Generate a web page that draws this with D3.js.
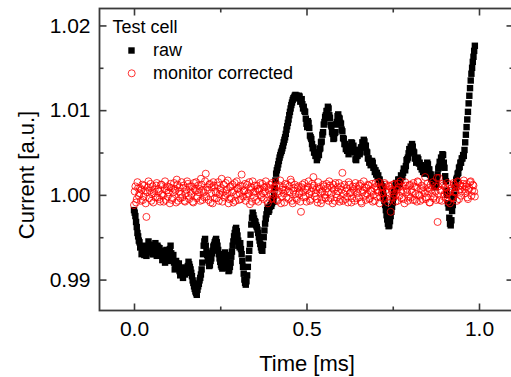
<!DOCTYPE html>
<html>
<head>
<meta charset="utf-8">
<script src="https://cdn.jsdelivr.net/npm/d3@7"></script>
<style>
  body { margin: 0; background: #fff; }
  text { font-family: "Liberation Sans", Arial, sans-serif; fill: #000; }
</style>
</head>
<body>
<div id="chart"></div>
<script>
// sampling step of both series [ms], first sample at t = 0
const sampleStep = 0.002;

// raw test-cell current (black squares)
const rawValues = [
  0.9982, 0.9979, 0.9975, 0.9968, 0.9962, 0.9955, 0.9951, 0.9946, 0.9944, 0.9938, 0.9938, 0.9930, 0.9932, 0.9940, 0.9939, 0.9929, 0.9934, 0.9939, 0.9928, 0.9933,
  0.9936, 0.9945, 0.9941, 0.9932, 0.9933, 0.9941, 0.9937, 0.9930, 0.9930, 0.9936, 0.9938, 0.9943, 0.9935, 0.9928, 0.9940, 0.9938, 0.9932, 0.9937, 0.9929, 0.9934,
  0.9932, 0.9923, 0.9928, 0.9933, 0.9925, 0.9920, 0.9930, 0.9935, 0.9927, 0.9922, 0.9932, 0.9928, 0.9936, 0.9940, 0.9931, 0.9925, 0.9924, 0.9929, 0.9920, 0.9912,
  0.9916, 0.9922, 0.9919, 0.9913, 0.9913, 0.9919, 0.9910, 0.9905, 0.9914, 0.9912, 0.9908, 0.9902, 0.9911, 0.9914, 0.9906, 0.9908, 0.9910, 0.9914, 0.9916, 0.9921,
  0.9918, 0.9915, 0.9912, 0.9908, 0.9904, 0.9899, 0.9896, 0.9892, 0.9889, 0.9886, 0.9884, 0.9882, 0.9888, 0.9892, 0.9895, 0.9899, 0.9902, 0.9906, 0.9912, 0.9920,
  0.9930, 0.9940, 0.9945, 0.9948, 0.9940, 0.9933, 0.9929, 0.9923, 0.9922, 0.9916, 0.9917, 0.9922, 0.9925, 0.9931, 0.9934, 0.9939, 0.9941, 0.9944, 0.9946, 0.9948,
  0.9944, 0.9940, 0.9935, 0.9930, 0.9925, 0.9921, 0.9917, 0.9915, 0.9913, 0.9918, 0.9922, 0.9928, 0.9932, 0.9929, 0.9924, 0.9918, 0.9914, 0.9910, 0.9911, 0.9915,
  0.9920, 0.9927, 0.9933, 0.9940, 0.9945, 0.9951, 0.9955, 0.9959, 0.9961, 0.9957, 0.9952, 0.9946, 0.9940, 0.9938, 0.9943, 0.9936, 0.9930, 0.9922, 0.9915, 0.9907,
  0.9900, 0.9896, 0.9894, 0.9898, 0.9905, 0.9915, 0.9925, 0.9934, 0.9942, 0.9953, 0.9965, 0.9973, 0.9979, 0.9976, 0.9972, 0.9969, 0.9968, 0.9964, 0.9962, 0.9959,
  0.9955, 0.9950, 0.9946, 0.9942, 0.9938, 0.9935, 0.9934, 0.9941, 0.9950, 0.9958, 0.9966, 0.9972, 0.9977, 0.9982, 0.9985, 0.9980, 0.9982, 0.9986, 0.9988, 0.9987,
  0.9990, 0.9993, 0.9992, 0.9999, 1.0008, 1.0017, 1.0025, 1.0029, 1.0032, 1.0036, 1.0040, 1.0044, 1.0047, 1.0050, 1.0052, 1.0055, 1.0058, 1.0062, 1.0065, 1.0068,
  1.0072, 1.0077, 1.0081, 1.0085, 1.0089, 1.0094, 1.0098, 1.0102, 1.0106, 1.0109, 1.0112, 1.0114, 1.0115, 1.0117, 1.0118, 1.0115, 1.0117, 1.0116, 1.0114, 1.0117,
  1.0116, 1.0110, 1.0112, 1.0113, 1.0107, 1.0102, 1.0104, 1.0099, 1.0098, 1.0090, 1.0084, 1.0080, 1.0087, 1.0085, 1.0079, 1.0070, 1.0068, 1.0066, 1.0060, 1.0055,
  1.0056, 1.0050, 1.0050, 1.0046, 1.0046, 1.0041, 1.0044, 1.0048, 1.0047, 1.0054, 1.0055, 1.0062, 1.0063, 1.0071, 1.0074, 1.0083, 1.0086, 1.0092, 1.0094, 1.0099,
  1.0099, 1.0104, 1.0102, 1.0094, 1.0091, 1.0083, 1.0081, 1.0074, 1.0072, 1.0066, 1.0067, 1.0073, 1.0074, 1.0083, 1.0086, 1.0093, 1.0095, 1.0091, 1.0090, 1.0085,
  1.0084, 1.0077, 1.0075, 1.0067, 1.0066, 1.0060, 1.0060, 1.0054, 1.0057, 1.0052, 1.0054, 1.0048, 1.0052, 1.0057, 1.0056, 1.0062, 1.0061, 1.0057, 1.0058, 1.0051,
  1.0050, 1.0042, 1.0041, 1.0046, 1.0046, 1.0053, 1.0053, 1.0048, 1.0050, 1.0056, 1.0056, 1.0062, 1.0061, 1.0065, 1.0063, 1.0058, 1.0058, 1.0051, 1.0050, 1.0043,
  1.0043, 1.0038, 1.0040, 1.0035, 1.0036, 1.0040, 1.0038, 1.0032, 1.0032, 1.0027, 1.0029, 1.0024, 1.0026, 1.0021, 1.0023, 1.0018, 1.0018, 1.0012, 1.0013, 1.0009,
  1.0010, 1.0004, 0.9998, 0.9993, 0.9988, 0.9982, 0.9976, 0.9971, 0.9966, 0.9963, 0.9964, 0.9969, 0.9975, 0.9980, 0.9986, 0.9991, 0.9997, 1.0003, 1.0008, 1.0011,
  1.0014, 1.0010, 1.0012, 1.0018, 1.0018, 1.0013, 1.0017, 1.0023, 1.0022, 1.0021, 1.0026, 1.0031, 1.0030, 1.0029, 1.0034, 1.0041, 1.0042, 1.0044, 1.0049, 1.0054,
  1.0052, 1.0057, 1.0056, 1.0060, 1.0057, 1.0051, 1.0050, 1.0043, 1.0043, 1.0038, 1.0040, 1.0044, 1.0042, 1.0037, 1.0038, 1.0033, 1.0035, 1.0030, 1.0031, 1.0027,
  1.0029, 1.0025, 1.0027, 1.0032, 1.0033, 1.0038, 1.0036, 1.0030, 1.0030, 1.0024, 1.0024, 1.0019, 1.0020, 1.0015, 1.0016, 1.0011, 1.0012, 1.0009, 1.0013, 1.0020,
  1.0024, 1.0031, 1.0033, 1.0039, 1.0038, 1.0044, 1.0043, 1.0048, 1.0047, 1.0038, 1.0032, 1.0022, 1.0016, 1.0005, 1.0000, 0.9990, 0.9985, 0.9973, 0.9966, 0.9964,
  0.9970, 0.9981, 0.9988, 0.9996, 1.0000, 1.0008, 1.0012, 1.0018, 1.0020, 1.0025, 1.0026, 1.0032, 1.0033, 1.0038, 1.0038, 1.0043, 1.0043, 1.0047, 1.0046, 1.0053,
  1.0062, 1.0071, 1.0080, 1.0089, 1.0098, 1.0108, 1.0117, 1.0126, 1.0135, 1.0143, 1.0150, 1.0157, 1.0163, 1.0170, 1.0176
];

// monitor corrected current (red open circles)
const correctedValues = [
  0.9988, 1.0004, 1.0010, 0.9991, 0.9995, 1.0015, 1.0008, 0.9999, 1.0002, 1.0008, 0.9993, 1.0006, 1.0012, 0.9994, 0.9998, 1.0011, 1.0005, 0.9990, 0.9974, 1.0003,
  1.0009, 1.0016, 0.9996, 1.0005, 1.0013, 0.9993, 1.0001, 1.0010, 0.9991, 1.0002, 1.0006, 0.9997, 1.0011, 1.0014, 0.9997, 1.0007, 1.0004, 0.9995, 0.9992, 1.0012,
  1.0012, 1.0001, 0.9999, 0.9992, 1.0007, 1.0016, 0.9994, 1.0005, 1.0010, 0.9998, 1.0003, 1.0009, 0.9990, 1.0013, 1.0008, 0.9994, 0.9996, 1.0003, 1.0014, 1.0007,
  1.0005, 0.9991, 1.0018, 1.0012, 0.9993, 1.0004, 1.0009, 0.9996, 1.0001, 1.0015, 0.9997, 1.0008, 1.0011, 0.9993, 0.9992, 1.0002, 1.0006, 1.0016, 1.0013, 0.9999,
  0.9995, 1.0010, 1.0004, 1.0001, 1.0010, 0.9992, 0.9991, 1.0014, 1.0007, 1.0005, 1.0015, 0.9996, 0.9998, 1.0011, 1.0003, 1.0007, 0.9993, 1.0019, 1.0012, 0.9994,
  1.0006, 1.0003, 0.9997, 1.0016, 1.0025, 0.9998, 1.0009, 1.0006, 0.9994, 1.0012, 1.0013, 0.9991, 1.0002, 1.0009, 0.9990, 1.0015, 1.0011, 0.9996, 1.0004, 1.0002,
  0.9996, 1.0011, 1.0015, 0.9993, 1.0001, 1.0006, 1.0008, 1.0019, 0.9992, 1.0003, 1.0012, 0.9997, 0.9999, 1.0014, 1.0006, 1.0001, 1.0017, 0.9990, 0.9995, 1.0009,
  1.0010, 0.9996, 1.0003, 1.0012, 0.9991, 1.0005, 1.0014, 0.9993, 1.0000, 1.0016, 1.0007, 1.0008, 0.9994, 1.0002, 1.0011, 0.9995, 1.0024, 1.0010, 0.9998, 1.0004,
  1.0005, 1.0013, 0.9993, 0.9998, 1.0012, 1.0001, 1.0002, 1.0015, 0.9989, 1.0006, 1.0009, 0.9992, 1.0016, 1.0003, 0.9997, 1.0011, 1.0004, 0.9994, 1.0011, 1.0007,
  0.9992, 1.0005, 1.0007, 1.0014, 1.0000, 0.9997, 1.0013, 1.0002, 0.9995, 1.0009, 1.0004, 1.0016, 1.0010, 0.9993, 0.9990, 1.0006, 1.0008, 1.0012, 1.0001, 0.9995,
  1.0014, 1.0000, 0.9996, 1.0009, 1.0005, 1.0015, 1.0011, 0.9994, 0.9993, 1.0004, 1.0002, 1.0011, 1.0017, 0.9990, 0.9998, 1.0006, 1.0009, 1.0002, 0.9991, 1.0013,
  1.0006, 0.9997, 1.0012, 1.0004, 0.9995, 1.0010, 1.0003, 1.0018, 1.0015, 0.9993, 0.9990, 1.0005, 1.0008, 1.0012, 1.0001, 0.9996, 0.9994, 1.0008, 1.0010, 1.0001,
  1.0004, 0.9992, 0.9980, 1.0009, 1.0012, 1.0003, 0.9997, 1.0014, 1.0007, 0.9998, 0.9992, 1.0006, 1.0010, 1.0016, 1.0001, 0.9993, 0.9995, 1.0004, 1.0013, 1.0008,
  1.0021, 1.0011, 0.9998, 1.0002, 1.0006, 0.9995, 0.9991, 1.0015, 1.0009, 1.0007, 1.0003, 0.9990, 0.9994, 1.0004, 1.0012, 1.0010, 1.0000, 0.9997, 0.9996, 1.0013,
  1.0008, 1.0003, 0.9993, 1.0016, 1.0011, 0.9996, 1.0002, 1.0008, 0.9990, 1.0012, 1.0006, 0.9993, 1.0014, 1.0001, 0.9997, 1.0009, 1.0004, 1.0014, 0.9992, 0.9995,
  1.0010, 1.0006, 1.0026, 0.9993, 1.0001, 1.0012, 0.9995, 1.0004, 1.0008, 0.9998, 0.9991, 1.0015, 1.0012, 1.0002, 1.0003, 0.9991, 0.9996, 1.0010, 1.0007, 1.0005,
  0.9993, 1.0014, 1.0010, 0.9996, 1.0002, 1.0007, 0.9997, 1.0011, 1.0013, 0.9992, 0.9990, 1.0003, 1.0005, 1.0016, 1.0009, 0.9999, 0.9994, 1.0008, 1.0001, 1.0012,
  1.0011, 0.9995, 0.9996, 1.0005, 1.0004, 1.0013, 0.9992, 1.0000, 1.0008, 0.9993, 1.0014, 1.0010, 0.9998, 1.0006, 1.0003, 1.0015, 0.9990, 0.9997, 1.0009, 1.0002,
  1.0002, 1.0009, 0.9995, 1.0014, 1.0012, 0.9996, 1.0006, 1.0003, 0.9991, 1.0011, 1.0010, 0.9994, 0.9980, 1.0007, 1.0004, 1.0012, 0.9997, 1.0001, 1.0013, 0.9992,
  1.0001, 1.0006, 0.9993, 1.0013, 1.0009, 0.9999, 1.0016, 1.0004, 0.9996, 1.0010, 1.0005, 0.9995, 0.9990, 1.0015, 1.0011, 1.0007, 1.0003, 0.9993, 0.9998, 1.0011,
  1.0012, 0.9997, 1.0006, 1.0003, 0.9994, 1.0014, 1.0010, 0.9994, 1.0001, 1.0009, 0.9992, 1.0016, 1.0015, 1.0000, 0.9999, 0.9993, 1.0007, 1.0011, 0.9995, 1.0005,
  1.0009, 1.0002, 1.0021, 0.9995, 0.9997, 1.0013, 1.0004, 1.0008, 0.9991, 0.9991, 1.0012, 1.0006, 1.0002, 1.0015, 0.9996, 0.9998, 1.0010, 1.0004, 0.9994, 1.0020,
  0.9968, 1.0010, 1.0020, 0.9994, 1.0005, 1.0006, 0.9993, 1.0013, 1.0011, 0.9998, 1.0001, 1.0009, 0.9996, 1.0002, 1.0014, 0.9992, 1.0003, 1.0012, 0.9990, 1.0005,
  1.0008, 0.9996, 0.9997, 1.0014, 1.0012, 1.0003, 1.0004, 1.0009, 0.9993, 1.0016, 1.0015, 0.9995, 1.0006, 1.0011, 0.9999, 1.0004, 1.0010, 1.0013, 1.0017, 1.0007,
  1.0002, 1.0010, 1.0013, 0.9997, 0.9995, 1.0006, 1.0008, 1.0015, 1.0016, 0.9999, 1.0005, 1.0012, 1.0011, 1.0004, 0.9998
];

const xTicks = [0, 0.5, 1.0];
const xMinorTicks = [0.25, 0.75];
const yTicks = [0.99, 1.00, 1.01, 1.02];
const yMinorTicks = [0.995, 1.005, 1.015];

const legendTitle = "Test cell";
const seriesNames = ["raw", "monitor corrected"];

const xLabel = "Time [ms]";
const yLabel = "Current [a.u.]";

const width = 511, height = 377;
const plot = { left: 99.5, right: 513.5, top: 8.5, bottom: 310.5 };
const axisColor = "#3a3a3a";

const svg = d3.select("#chart").append("svg")
  .attr("width", width)
  .attr("height", height);

const x = d3.scaleLinear().domain([-0.1, 1.1]).range([plot.left, plot.right]);
const y = d3.scaleLinear().domain([0.98635, 1.0220]).range([plot.bottom, plot.top]);

const raw = rawValues.map((v, i) => ({ t: i * sampleStep, v: v }));
const corrected = correctedValues.map((v, i) => ({ t: i * sampleStep, v: v }));

// data layer, clipped to the frame
svg.append("clipPath").attr("id", "clip")
  .append("rect")
  .attr("x", plot.left).attr("y", plot.top)
  .attr("width", plot.right - plot.left).attr("height", plot.bottom - plot.top);

const dataG = svg.append("g").attr("clip-path", "url(#clip)");
const sq = 6.4;

dataG.selectAll("rect.raw").data(raw).enter().append("rect")
  .attr("class", "raw")
  .attr("x", d => x(d.t) - sq / 2)
  .attr("y", d => y(d.v) - sq / 2)
  .attr("width", sq).attr("height", sq)
  .attr("fill", "#000");

dataG.selectAll("circle.corr").data(corrected).enter().append("circle")
  .attr("class", "corr")
  .attr("cx", d => x(d.t))
  .attr("cy", d => y(d.v))
  .attr("r", 3.5)
  .attr("fill", "none")
  .attr("stroke", "#ff0000")
  .attr("stroke-width", 0.8);

// axes, ticks pointing into the frame
function styleAxis(g) {
  g.select(".domain").remove();
  g.selectAll(".tick line").attr("stroke", axisColor).attr("stroke-width", 1.6);
  g.selectAll(".tick text")
    .attr("font-size", "21px")
    .attr("fill", "#000")
    .style("font-family", "'Liberation Sans', Arial, sans-serif");
}

svg.append("g")
  .attr("transform", "translate(0," + plot.bottom + ")")
  .call(d3.axisBottom(x).tickValues(xTicks).tickSize(-7).tickPadding(10.5).tickFormat(d3.format(".1f")))
  .call(styleAxis);
svg.append("g")
  .attr("transform", "translate(0," + plot.bottom + ")")
  .call(d3.axisBottom(x).tickValues(xMinorTicks).tickSize(-4).tickFormat(""))
  .call(styleAxis);
svg.append("g")
  .attr("transform", "translate(0," + plot.top + ")")
  .call(d3.axisTop(x).tickValues(xTicks).tickSize(-7).tickFormat(""))
  .call(styleAxis);
svg.append("g")
  .attr("transform", "translate(0," + plot.top + ")")
  .call(d3.axisTop(x).tickValues(xMinorTicks).tickSize(-4).tickFormat(""))
  .call(styleAxis);

svg.append("g")
  .attr("transform", "translate(" + plot.left + ",0)")
  .call(d3.axisLeft(y).tickValues(yTicks).tickSize(-7).tickPadding(9).tickFormat(d3.format(".2f")))
  .call(styleAxis);
svg.append("g")
  .attr("transform", "translate(" + plot.left + ",0)")
  .call(d3.axisLeft(y).tickValues(yMinorTicks).tickSize(-4).tickFormat(""))
  .call(styleAxis);
svg.append("g")
  .attr("transform", "translate(" + plot.right + ",0)")
  .call(d3.axisRight(y).tickValues(yTicks).tickSize(-7).tickFormat(""))
  .call(styleAxis);
svg.append("g")
  .attr("transform", "translate(" + plot.right + ",0)")
  .call(d3.axisRight(y).tickValues(yMinorTicks).tickSize(-4).tickFormat(""))
  .call(styleAxis);

// frame
svg.append("rect")
  .attr("x", plot.left).attr("y", plot.top)
  .attr("width", plot.right - plot.left).attr("height", plot.bottom - plot.top)
  .attr("fill", "none")
  .attr("stroke", axisColor)
  .attr("stroke-width", 1.8);

// axis titles
svg.append("text")
  .attr("x", 307).attr("y", 371)
  .attr("text-anchor", "middle")
  .attr("font-size", "22px")
  .text(xLabel);

svg.append("text")
  .attr("transform", "translate(34,175) rotate(-90)")
  .attr("text-anchor", "middle")
  .attr("font-size", "22px")
  .text(yLabel);

// legend
const legend = svg.append("g");
legend.append("text")
  .attr("x", 112.5).attr("y", 32.5)
  .attr("font-size", "18px")
  .text(legendTitle);

legend.append("rect")
  .attr("x", 131.5 - sq / 2).attr("y", 50.5 - sq / 2)
  .attr("width", sq).attr("height", sq)
  .attr("fill", "#000");
legend.append("circle")
  .attr("cx", 131.7).attr("cy", 73.3).attr("r", 3.5)
  .attr("fill", "none").attr("stroke", "#ff0000").attr("stroke-width", 0.8);

legend.selectAll("text.item").data(seriesNames).enter().append("text")
  .attr("class", "item")
  .attr("x", 153)
  .attr("y", (d, i) => 55.5 + i * 23)
  .attr("font-size", "18px")
  .text(d => d);
</script>
</body>
</html>
